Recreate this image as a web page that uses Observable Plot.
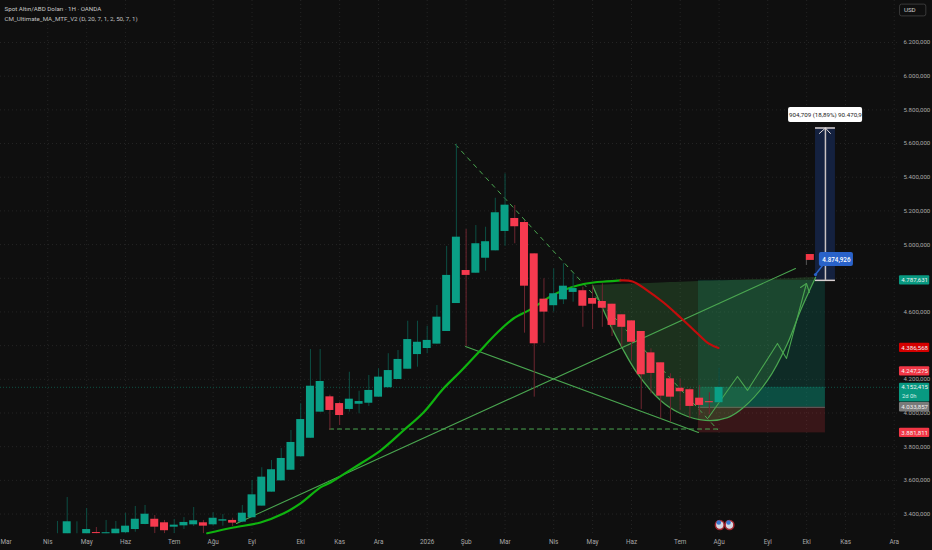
<!DOCTYPE html>
<html><head><meta charset="utf-8">
<script src="https://cdn.jsdelivr.net/npm/d3@7"></script>
<script src="https://cdn.jsdelivr.net/npm/@observablehq/plot@0.6"></script>
<style>html,body{margin:0;padding:0;background:#0f0f0f;overflow:hidden}svg{display:block}</style>
</head><body><div id="c"></div>
<script>
const FONT = 'Roboto,"Open Sans","Noto Sans",sans-serif';
const opens  = [3283,3283,3283,3283,3290,3283,3283,3289,3308,3338,3369,3348,3322,3330,3336,3348,3336,3358,3362,3352,3378,3447,3530,3597,3660,3740,3850,4005,4096,4056,4021,4052,4058,4094,4150,4199,4260,4347,4383,4409,4484,4650,4846,4830,4919,4963,5078,5155,5131,4945,4676,4637,4672,4716,4726,4680,4662,4646,4583,4547,4484,4357,4298,4203,4147,4138,4088,4067,4061];
const closes = [3283,3354,3283,3308,3284,3289,3310,3328,3369,3399,3322,3301,3334,3350,3360,3328,3375,3366,3346,3405,3514,3619,3663,3730,3825,3961,4159,4187,4015,3985,4082,4068,4134,4213,4252,4318,4436,4420,4431,4569,4817,5044,4817,5005,5017,5189,5234,5106,4753,4411,4599,4708,4753,4739,4634,4646,4622,4520,4509,4420,4227,4235,4100,4094,4126,4039,4045,4061,4152];
const highs  = [3356,3498,3354,3433,3320,3362,3356,3403,3445,3451,3391,3362,3368,3379,3439,3362,3407,3397,3375,3451,3599,3675,3718,3789,3896,4055,4377,4377,4106,4064,4242,4129,4223,4263,4352,4371,4545,4545,4515,4638,4989,5594,5090,5113,5103,5275,5420,5232,5143,4945,4797,4856,4886,4827,4747,4757,4767,4646,4583,4547,4484,4381,4298,4233,4203,4146,4163,4120,4266];
const lows   = [3283,3283,3283,3283,3283,3283,3283,3283,3292,3336,3284,3284,3284,3308,3326,3284,3328,3328,3326,3348,3378,3447,3530,3597,3660,3740,3850,4005,3896,3926,4005,3995,4039,4094,4150,4199,4260,4272,4352,4409,4484,4650,4395,4830,4842,4963,4990,5005,4474,4094,4414,4599,4644,4658,4509,4496,4509,4454,4391,4312,4021,4114,3965,3945,4015,3965,3985,3991,4061];
const firstWeek = -1;
const candles = opens.map((o,i)=>({i:i+firstWeek,o,c:closes[i],h:highs[i],l:lows[i],up:closes[i]>=o}));

const maX   = [14.39,17.09,19.87,22.23,23.98,26.03,27.06,29.32,32.2,34.56,36.62,38.67,40.42,42.17,44.22,45.87,47.62,49.67,51.2,52.45,54.09,55.43,56.86];
const maY   = [3286,3320,3350,3403,3463,3558,3587,3670,3777,3896,4003,4145,4246,4353,4478,4561,4615,4692,4733,4757,4775,4781,4787];
const ma2X  = [56.86,58.1,59.64,61.29,63.03,64.78,65.91,66.94];
const ma2Y  = [4787,4781,4727,4656,4567,4472,4413,4386];
const cupX  = [53.99,54.81,55.84,57.07,58.6,60.99,63.03,65.6,67.86,69.5,71.97,74.03,75.37,76.91];
const cupY  = [4757,4650,4520,4383,4235,4074,3997,3956,3973,4033,4193,4413,4609,4805];
const cupTop= [4757,4759,4761,4764,4767,4772,4776,4782,4786,4790,4794,4797,4802,4805];
const zigX  = [65.91,68.89,69.92,73,73.93,75.98];
const zigY  = [3973,4217,4134,4413,4324,4769];
const headX = [75.37,75.98,76.28];
const headY = [4745,4769,4716];
const series = (xs,ys)=>xs.map((x,k)=>({x,y:ys[k]}));

const gridTicks  = [3400,3600,3800,4000,4200,4400,4600,4800,5000,5200,5400,5600,5800,6000,6200];
const priceTicks = [3400,3600,3800,4000,4200,4600,5000,5200,5400,5600,5800,6000,6200];
const monthPos = [-2,2,6,11,15,19,24,28,32,37,41,45,50,54,58,63,67,72,76,80,85];
const monthLab = ["Nis","May","Haz","Tem","Ağu","Eyl","Eki","Kas","Ara","2026","Şub","Mar","Nis","May","Haz","Tem","Ağu","Eyl","Eki","Kas","Ara"];

const badgeVal = [4787.631,4386.568,4247.275,4033.857,3881.811];
const badgeTxt = ["4.787,631","4.386,568","4.247,275","4.033,857","3.881,811"];
const badgeCol = ["#089981","#d40000","#f23645","#7a7a7a","#f23645"];
const badges = badgeVal.map((v,k)=>({v,t:badgeTxt[k],c:badgeCol[k]}));

const zone = {x1:64.88,x2:77.93,top:4787.631,entry:4033.857,stop:3881.811,cur:4152.415};
const measure = {x1:76.91,x2:78.96,xm:77.93,y1:4787.631,y2:5692.34};
const thin = "#4aa650";
const ax = 85.54, bx = 88.65, mid = 87.1;

const plot = Plot.plot({
  width:932,height:550,marginTop:0,marginBottom:16,marginLeft:0,marginRight:34,
  style:{background:"#0f0f0f",fontFamily:FONT,overflow:"visible"},
  x:{domain:[-6.855,85.44],axis:null},
  y:{domain:[3278.5,6449.4],axis:null},
  marks:[
    Plot.gridY(gridTicks,{stroke:"#3a3a3a",strokeOpacity:0.5,strokeDasharray:"1,3"}),
    Plot.gridX(monthPos,{stroke:"#3a3a3a",strokeOpacity:0.5,strokeDasharray:"1,3"}),
    Plot.ruleY([zone.cur],{stroke:"#0d6b5a",strokeOpacity:.7,strokeDasharray:"1,2"}),
    Plot.rect([zone],{x1:"x1",x2:"x2",y1:"entry",y2:"top",fill:"#089981",fillOpacity:.2}),
    Plot.rect([zone],{x1:"x1",x2:"x2",y1:"entry",y2:"cur",fill:"#089981",fillOpacity:.32}),
    Plot.rect([zone],{x1:"x1",x2:"x2",y1:"stop",y2:"entry",fill:"#f23645",fillOpacity:.18}),
    Plot.ruleY([zone.entry],{x1:zone.x1,x2:zone.x2,stroke:"#777",strokeWidth:.8}),
    Plot.areaY(cupX.map((x,k)=>({x,y1:cupY[k],y2:cupTop[k]})),{x:"x",y1:"y1",y2:"y2",fill:"#4caf50",fillOpacity:.22,curve:"catmull-rom"}),
    Plot.rect([measure],{x1:"x1",x2:"x2",y1:"y1",y2:"y2",fill:"#14213f"}),
    Plot.ruleX([measure.xm],{y1:measure.y1,y2:measure.y2,stroke:"#c9c2c2",strokeWidth:1.5}),
    Plot.ruleY([measure.y1,measure.y2],{x1:measure.x1,x2:measure.x2,stroke:"#d8d0d0",strokeWidth:1.5}),
    Plot.line(series([77.31,77.93,78.44],[5660,5692,5660]),{x:"x",y:"y",stroke:"#e0dada",strokeWidth:1}),
    Plot.line([{x:39.9,y:5594},{x:66.84,y:3902}],{x:"x",y:"y",stroke:thin,strokeWidth:1,strokeDasharray:"4,5"}),
    Plot.line([{x:26.96,y:3905},{x:66.84,y:3905}],{x:"x",y:"y",stroke:thin,strokeWidth:1.2,strokeDasharray:"4,4"}),
    Plot.line([{x:40.94,y:4395},{x:64.88,y:3884}],{x:"x",y:"y",stroke:thin,strokeWidth:1.1}),
    Plot.line([{x:17.4,y:3344},{x:74.85,y:4858}],{x:"x",y:"y",stroke:thin,strokeWidth:1.1}),
    Plot.line(series(cupX,cupY),{x:"x",y:"y",stroke:thin,strokeWidth:1.3,curve:"catmull-rom"}),
    Plot.line(series(zigX,zigY),{x:"x",y:"y",stroke:thin,strokeWidth:1.1}),
    Plot.line(series(headX,headY),{x:"x",y:"y",stroke:thin,strokeWidth:1.1}),
    Plot.line(series(maX,maY),{x:"x",y:"y",stroke:"#0fb30f",strokeWidth:2.2,curve:"catmull-rom"}),
    Plot.line(series(ma2X,ma2Y),{x:"x",y:"y",stroke:"#c40c0c",strokeWidth:2.2,curve:"catmull-rom"}),
    Plot.ruleX(candles,{x:"i",y1:"l",y2:"h",stroke:d=>d.up?"#0c4f44":"#6e2630",strokeWidth:1}),
    Plot.rect(candles.filter(d=>d.o!==d.c),{x1:d=>d.i-.41,x2:d=>d.i+.41,y1:"o",y2:"c",fill:d=>d.up?"#0a9f86":"#f63a4f"}),
    Plot.ruleX([75.97],{y1:4876,y2:4941,stroke:"#555",strokeWidth:1}),
    Plot.rect([{a:75.97,b:76.79,y1:4906,y2:4941}],{x1:"a",x2:"b",y1:"y1",y2:"y2",fill:"#f23645"}),
    Plot.line(series([76.91,77.63],[4822,4876]),{x:"x",y:"y",stroke:"#2962c9",strokeWidth:1.5}),
    Plot.dot([{x:76.91,y:4822}],{x:"x",y:"y",r:1.6,fill:"#2962c9"}),
    Plot.rect([{a:77.31,b:80.81,y1:4870,y2:4953}],{x1:"a",x2:"b",y1:"y1",y2:"y2",fill:"#2962c9",rx:2}),
    Plot.text(["4.874,926"],{x:79.06,y:4911,fill:"#fff",fontSize:6.3,fontWeight:500}),
    Plot.rect([{a:74.14,b:81.75,y1:5725,y2:5814}],{x1:"a",x2:"b",y1:"y1",y2:"y2",fill:"#fff",rx:2}),
    Plot.text(["904,709 (18,89%) 90.470,9"],{x:77.93,y:5769,fill:"#222",fontSize:6.2}),
    Plot.dot([67,68],{x:d=>d+.07,y:3335,r:4.4,fill:"#d6d8e0",stroke:"#a3252f",strokeWidth:1.5}),
    Plot.dot([67,68],{x:d=>d-.03,y:3350,r:2.3,fill:"#3a78d0"}),
    Plot.axisY(priceTicks,{anchor:"right",tickSize:0,tickPadding:5,fontSize:6.1,fill:"#a8a8a8",textAnchor:"start",tickFormat:v=>d3.format(".3f")(v).replace(".",",").replace(/^(\d)(\d{3})/,"$1.$2"),label:null}),
    Plot.axisX(monthPos,{anchor:"bottom",tickSize:0,tickPadding:5,fontSize:6.4,fill:"#a8a8a8",tickFormat:v=>monthLab[monthPos.indexOf(v)],label:null}),
    Plot.text(["Mar"],{frameAnchor:"bottom-left",dx:0,dy:7,lineAnchor:"middle",fill:"#a8a8a8",fontSize:6.4,textAnchor:"start"}),
    Plot.rect(badges,{x1:ax,x2:bx,y1:d=>d.v-28,y2:d=>d.v+28,fill:"c",rx:1}),
    Plot.text(badges,{x:mid,y:"v",text:"t",fill:"#f2f2f2",fontSize:6.1}),
    Plot.rect([{y1:4066,y2:4176}],{x1:ax,x2:bx,y1:"y1",y2:"y2",fill:"#089981",rx:1}),
    Plot.text(["4.152,415"],{x:mid,y:zone.cur,fill:"#f2f2f2",fontSize:6.1}),
    Plot.text(["2d 0h"],{x:mid-.55,y:4098,fill:"#d8f0ea",fontSize:5.8}),
    Plot.rect([{y1:6355,y2:6425}],{x1:85.6,x2:88.3,y1:"y1",y2:"y2",fill:"#0f0f0f",stroke:"#3a3a3a",rx:2}),
    Plot.text(["USD"],{x:86.6,y:6390,fill:"#d0d0d0",fontSize:6.2}),
    Plot.text(["Spot Altın/ABD Doları · 1H · OANDA"],{frameAnchor:"top-left",dx:4,dy:6.5,fill:"#c8c8c8",fontSize:6.2,lineAnchor:"top"}),
    Plot.text(["CM_Ultimate_MA_MTF_V2 (D, 20, 7, 1, 2, 50, 7, 1)"],{frameAnchor:"top-left",dx:4,dy:16,fill:"#c0c0c0",fontSize:6.2,lineAnchor:"top"})
  ]
});
document.getElementById("c").append(plot);
</script>
</body></html>
